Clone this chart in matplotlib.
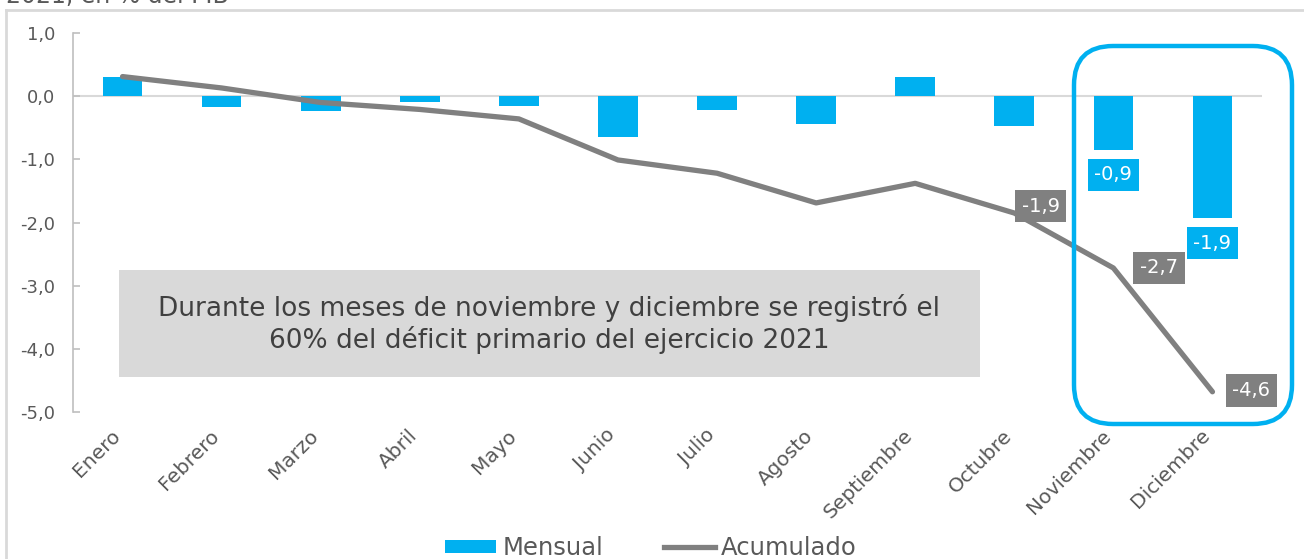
import matplotlib
matplotlib.use("Agg")
import matplotlib.pyplot as plt
import matplotlib.transforms as mtransforms
from matplotlib.patches import FancyBboxPatch, Rectangle, Patch
from matplotlib.lines import Line2D

months = ["Enero", "Febrero", "Marzo", "Abril", "Mayo", "Junio", "Julio",
          "Agosto", "Septiembre", "Octubre", "Noviembre", "Diciembre"]
mensual = [0.30, -0.17, -0.24, -0.10, -0.16, -0.65, -0.22, -0.44, 0.30, -0.47, -0.85, -1.93]
acumulado = [0.31, 0.13, -0.10, -0.21, -0.36, -1.01, -1.22, -1.69, -1.38, -1.85, -2.72, -4.68]
yticks = [1.0, 0.0, -1.0, -2.0, -3.0, -4.0, -5.0]
ytick_labels = ["1,0", "0,0", "-1,0", "-2,0", "-3,0", "-4,0", "-5,0"]
bar_labels = {10: "-0,9", 11: "-1,9"}
line_labels = {9: "-1,9", 10: "-2,7", 11: "-4,6"}
note = "Durante los meses de noviembre y diciembre se registró el\n60% del déficit primario del ejercicio 2021"
title = "2021, en % del PIB"

BLUE = "#00B0F0"
GRAY = "#808080"
TXT = "#595959"

plt.rcParams['font.family'] = ['DejaVu Sans']

W, H = 1304, 559
fig = plt.figure(figsize=(W / 100, H / 100), dpi=100)

def fx(px):
    return px / W

def fy(py):
    return 1 - py / H

# outer frame
fig.add_artist(Line2D([fx(6), fx(6)], [fy(10), 0], transform=fig.transFigure, color="#d9d9d9", lw=2))
fig.add_artist(Line2D([fx(6), 1], [fy(10), fy(10)], transform=fig.transFigure, color="#d9d9d9", lw=2))
fig.text(fx(6), fy(-4), title, fontsize=17, color=TXT, ha="left", va="center")

ax = fig.add_axes([fx(73), fy(412), fx(1262 - 73), fy(33) - fy(412)])
x = list(range(len(months)))
ax.bar(x, mensual, width=0.4, color=BLUE, zorder=2)
ax.plot(x, acumulado, color=GRAY, lw=3.8, solid_capstyle="round", zorder=3)
ax.axhline(0, color="#d9d9d9", lw=1.5, zorder=1)

ax.set_xlim(-0.5, len(months) - 0.5)
ax.set_ylim(-5.0, 1.0)
ax.set_yticks(yticks)
ax.set_yticklabels(ytick_labels, fontsize=13, color=TXT)
ax.tick_params(axis="y", direction="in", length=5, color="#bfbfbf", width=1.2, pad=13)
ax.set_xticks(x)
ax.set_xticklabels(months, rotation=45, ha="right", rotation_mode="anchor", fontsize=14.5, color=TXT)
ax.tick_params(axis="x", length=0, pad=10)
shift = mtransforms.ScaledTranslation(-12 / 100, 0, fig.dpi_scale_trans)
for lab in ax.get_xticklabels():
    lab.set_transform(lab.get_transform() + shift)
for s in ["top", "right", "bottom"]:
    ax.spines[s].set_visible(False)
ax.spines["left"].set_color("#bfbfbf")
ax.spines["left"].set_linewidth(1.2)

# bar labels
for i, t in bar_labels.items():
    ax.annotate(t, (i, mensual[i]), xytext=(0, -18), textcoords="offset points",
                ha="center", va="center", fontsize=14, color="white",
                bbox=dict(boxstyle="square,pad=0.35", fc=BLUE, ec="none"), zorder=5)

offs = {9: (19, 5), 10: (33, 0), 11: (28, 1)}
for i, t in line_labels.items():
    ax.annotate(t, (i, acumulado[i]), xytext=offs[i], textcoords="offset points",
                ha="center", va="center", fontsize=14, color="white",
                bbox=dict(boxstyle="square,pad=0.35", fc=GRAY, ec="none"), zorder=5)

# note box
fig.add_artist(Rectangle((fx(119), fy(377)), fx(980 - 119), fy(270) - fy(377),
                         transform=fig.transFigure, fc="#d9d9d9", ec="none", zorder=1))
fig.text(fx(549), fy(324), note, ha="center", va="center", fontsize=19,
         color="#404040", linespacing=1.15, zorder=2)

# highlight rounded box
fig.add_artist(FancyBboxPatch((fx(1074), fy(424)), fx(1292 - 1074), fy(46) - fy(424),
                              boxstyle="round,pad=0,rounding_size=0.03",
                              transform=fig.transFigure, fc="none", ec=BLUE, lw=3.2,
                              mutation_aspect=W / H, zorder=6))

handles = [Patch(fc=BLUE, ec="none"), Line2D([], [], color=GRAY, lw=3.8)]
fig.legend(handles, ["Mensual", "Acumulado"], loc="center", bbox_to_anchor=(fx(651), fy(548)),
           ncol=2, frameon=False, fontsize=17.5, labelcolor=TXT, handlelength=2.1,
           handleheight=0.45, columnspacing=2.5, handletextpad=0.25)

fig.savefig("out.png", dpi=100)
